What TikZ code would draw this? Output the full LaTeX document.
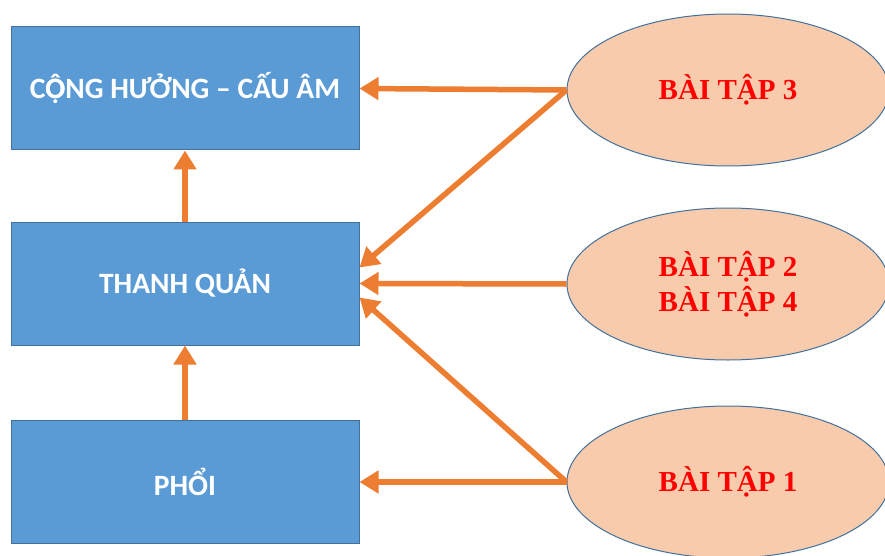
\documentclass[tikz,border=0pt]{standalone}
\usepackage{fontspec}
\setmainfont{Liberation Serif}
\newfontfamily\boxfont{Carlito}
\usetikzlibrary{arrows.meta,shapes.geometric}
\definecolor{boxfill}{HTML}{5B9BD5}
\definecolor{boxline}{HTML}{41719C}
\definecolor{ellfill}{HTML}{F8CBAD}
\definecolor{arr}{HTML}{ED7D31}
\definecolor{txtred}{HTML}{FF0000}
\begin{document}
\begin{tikzpicture}[x=1pt,y=-1pt,
  blk/.style={draw=boxline,line width=1pt,fill=boxfill,minimum width=348pt,minimum height=123pt,inner sep=0pt,
    text=white,font=\boxfont\bfseries\fontsize{29.5}{34}\selectfont},
  ell/.style={ellipse,draw=boxline,line width=1pt,fill=ellfill,minimum width=322pt,minimum height=152pt,inner sep=0pt,
    text=txtred,font=\bfseries\fontsize{29}{35}\selectfont,align=center},
  con/.style={draw=arr,line width=5.5pt,-{Triangle[length=19pt,width=22pt]}}]
\useasboundingbox (0,0) rectangle (885,556);
\clip (0,0) rectangle (885,556);
\fill[white] (0,0) rectangle (885,556);
\node[blk] (cong) at (185,88.5) {C\rlap{Ọ}ÔNG HƯỞNG – CẤU ÂM};
\node[blk] (thanh) at (185,283.5) {THANH QUẢN};
\node[blk] (phoi) at (185,482) {PHỔI};
\node[ell] (b3) at (728,90) {BÀI TẬP 3};
\node[ell] (b24) at (728,284) {BÀI TẬP 2\\BÀI TẬP 4};
\node[ell] (b1) at (728,482) {BÀI TẬP 1};
\draw[con] (thanh.north) -- (cong.south);
\draw[con] (phoi.north) -- (thanh.south);
\draw[con] (b3.west) -- (cong.east);
\draw[con] (b3.west) -- ([yshift=16pt]thanh.east);
\draw[con] (b24.west) -- (thanh.east);
\draw[con] (b1.west) -- ([yshift=-14pt]thanh.east);
\draw[con] (b1.west) -- (phoi.east);
\end{tikzpicture}
\end{document}
